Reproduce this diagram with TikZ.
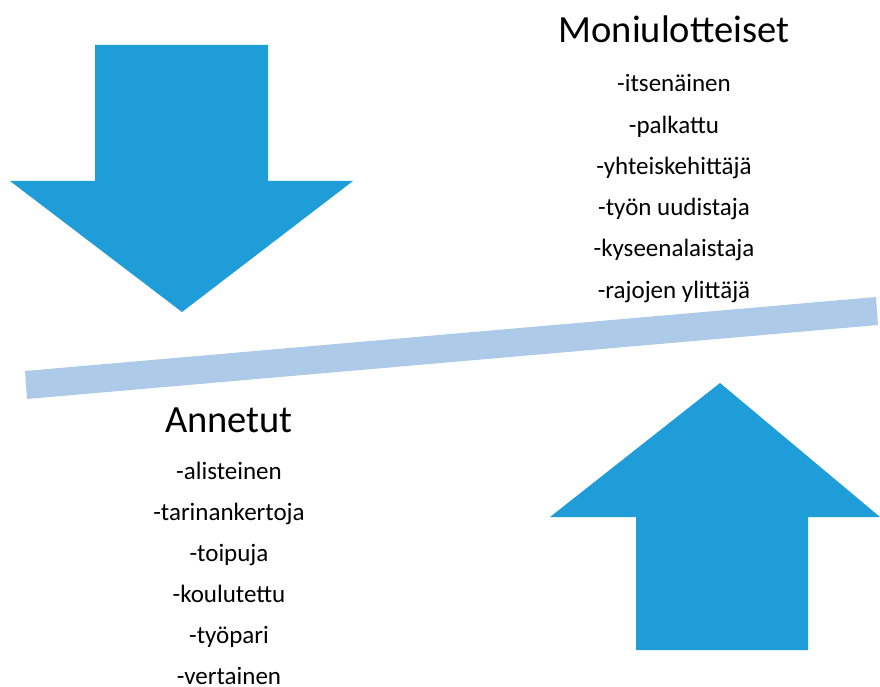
\documentclass[tikz,border=0pt]{standalone}
\usepackage{fontspec}
\setmainfont{Carlito}
\usetikzlibrary{positioning}
\definecolor{arrowblue}{RGB}{31,157,217}
\definecolor{barblue}{RGB}{173,203,233}
\tikzset{
  bigarrow/.style={fill=arrowblue,draw=none},
  headline/.style={font=\fontsize{38.5}{40}\selectfont,anchor=base,inner sep=0pt},
  listitem/.style={font=\fontsize{25}{28}\selectfont,anchor=base,inner sep=0pt}
}

\begin{document}
\begin{tikzpicture}[x=1pt,y=-1pt]
  \useasboundingbox (0,0) rectangle (880,687);

  % down arrow
  \fill[bigarrow] (95,45) -- (268,45) -- (268,181) -- (353,181) -- (182,312)
    -- (10,181) -- (95,181) -- cycle;
  % up arrow
  \fill[bigarrow] (720,383) -- (880,517) -- (808,517) -- (808,650)
    -- (636,650) -- (636,517) -- (550,517) -- cycle;
  % tilted bar
  \fill[barblue] (25,371) -- (876,297) -- (878,325) -- (27,399) -- cycle;

  \node[headline] (mon) at (674,43) {Moniulotteiset};
  \foreach \txt [count=\i] in {-itsenäinen,-palkattu,-yhteiskehittäjä,
      -työn uudistaja,-kyseenalaistaja,-rajojen ylittäjä}
    \node[listitem] (m\i) at (674,{92+41.2*(\i-1)}) {\txt};

  \node[headline] (ann) at (229,432) {Annetut};
  \foreach \txt [count=\i] in {-alisteinen,-tarinankertoja,-toipuja,
      -koulutettu,-työpari,-vertainen}
    \node[listitem] (a\i) at (229,{479+41*(\i-1)}) {\txt};
\end{tikzpicture}
\end{document}
